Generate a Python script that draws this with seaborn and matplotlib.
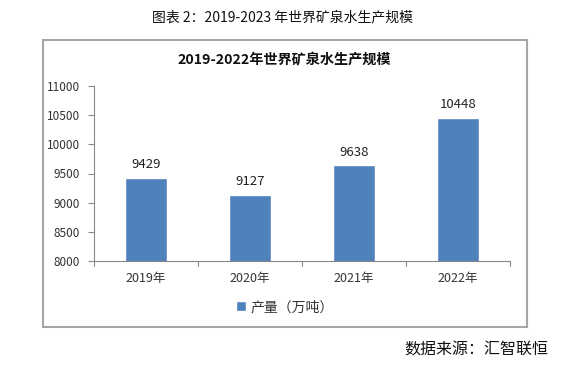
import matplotlib
matplotlib.use("Agg")
import matplotlib.pyplot as plt
import seaborn as sns
import pandas as pd
from matplotlib.patches import Rectangle

years = ["2019年", "2020年", "2021年", "2022年"]
output = [9429, 9127, 9638, 10448]
yticks = [8000, 8500, 9000, 9500, 10000, 10500, 11000]
series_name = "产量（万吨）"

sns.set_theme(style="white")
plt.rcParams['font.family'] = ['Noto Sans CJK SC', 'DejaVu Sans']

df = pd.DataFrame({"year": years, "value": output, "series": series_name})

fig = plt.figure(figsize=(5.68, 3.66), dpi=100)
ax = fig.add_axes([94/568, 1-261/366, 416/568, 175/366])

sns.barplot(data=df, x="year", y="value", hue="series", palette=["#4F81BD"],
            width=0.4, ax=ax, saturation=1, legend=True)

ax.set_ylim(8000, 11000)
ax.set_yticks(yticks)
ax.set_yticklabels([str(t) for t in yticks], fontsize=8.5, color="#333333")
ax.set_xlim(-0.5, len(years) - 0.5)
ax.set_xlabel("")
ax.set_ylabel("")
ax.tick_params(axis="x", labelsize=9, colors="#333333", length=0, pad=8)
ax.tick_params(axis="y", length=4, width=0.8, color="#888888", direction="out", left=True, pad=6)

for s in ["top", "right"]:
    ax.spines[s].set_visible(False)
for s in ["left", "bottom"]:
    ax.spines[s].set_color("#888888")
    ax.spines[s].set_linewidth(0.8)

# category-boundary ticks on the x axis
for b in range(len(years) + 1):
    ax.plot([b - 0.5, b - 0.5], [0, -0.03], transform=ax.get_xaxis_transform(),
            color="#888888", lw=0.8, clip_on=False)

for i, v in enumerate(output):
    ax.annotate(str(v), (i, v), xytext=(0, 5), textcoords="offset points",
                ha="center", va="bottom", fontsize=9.5, color="#222222")

leg = ax.legend(loc="center", bbox_to_anchor=(285/568, 1-307/366),
                bbox_transform=fig.transFigure, frameon=False, fontsize=10,
                handlelength=0.7, handleheight=0.7, handletextpad=0.3)
for t in leg.get_texts():
    t.set_color("#333333")

ax.set_title("")
fig.text(284/568, 1-60/366, "2019-2022年世界矿泉水生产规模", ha="center", va="center",
         fontsize=10.2, fontweight="bold", color="#111111")

fig.add_artist(Rectangle((43/568, 1-327/366), 484/568, 287/366, transform=fig.transFigure,
                         fill=False, edgecolor="#A6A6A6", lw=1.5))

fig.text(283/568, 1-17/366, "图表 2：2019-2023 年世界矿泉水生产规模", ha="center", va="center",
         fontsize=10, color="#111111")
fig.text(548/568, 1-350/366, "数据来源：汇智联恒", ha="right", va="center",
         fontsize=11.5, color="#111111")

fig.savefig("out.png", dpi=100)
